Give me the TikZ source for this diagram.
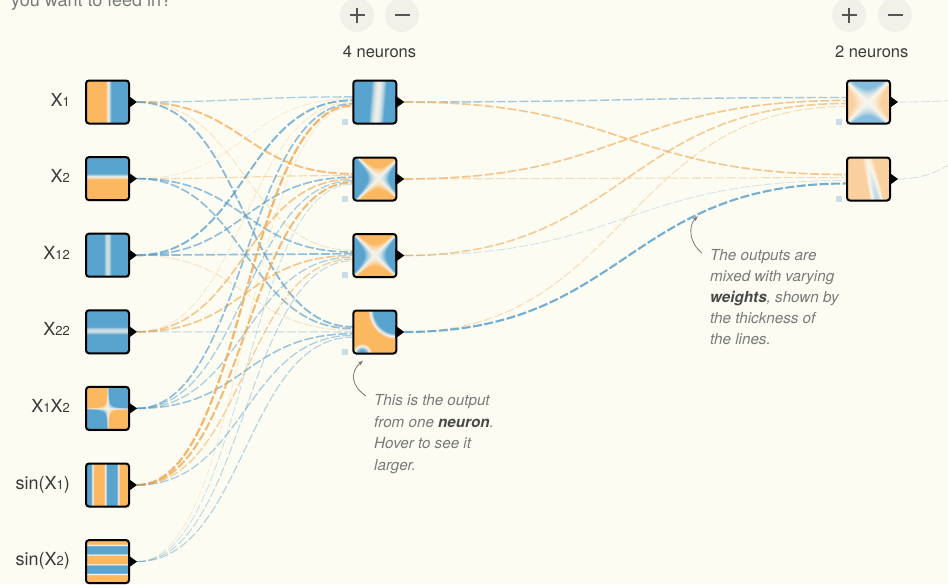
\documentclass[tikz,border=0pt]{standalone}
\usepackage{fontspec}
\setmainfont{TeX Gyre Heros}
\usetikzlibrary{calc,arrows.meta,shadows}

\definecolor{paper}{RGB}{252,252,242}
\definecolor{labelink}{RGB}{58,58,58}
\definecolor{noteink}{RGB}{122,122,122}
\definecolor{boldnote}{RGB}{72,72,72}
\definecolor{linkblue}{RGB}{88,158,204}
\definecolor{linkorange}{RGB}{242,172,92}
\definecolor{biasfill}{RGB}{200,221,230}
\definecolor{btnfill}{RGB}{241,241,233}
\definecolor{btnink}{RGB}{85,85,85}

% PostScript helpers for the heat maps inside the units.
% \uvmap: shading coordinates -> u,v in [-1,1] across the unit square.
\def\uvmap{ 50 sub 25 div exch 50 sub 25 div exch }
% value s -> r g b : -1 orange, 0 near white, +1 blue
\def\cmapfull{ dup 1 gt {pop 1} if dup -1 lt {pop -1} if dup 0 lt {neg dup dup -0.54 mul 0.92 add 3 1 roll -0.23 mul 0.95 add 3 1 roll 0.04 mul 0.95 add 3 1 roll} {dup dup -0.11 mul 0.92 add 3 1 roll -0.31 mul 0.95 add 3 1 roll -0.60 mul 0.95 add 3 1 roll} ifelse }
\def\cmappale{ dup 1 gt {pop 1} if dup -1 lt {pop -1} if dup 0 lt {neg dup dup -0.30 mul 0.92 add 3 1 roll -0.14 mul 0.96 add 3 1 roll 0.01 mul 0.97 add 3 1 roll} {dup dup -0.05 mul 0.92 add 3 1 roll -0.22 mul 0.96 add 3 1 roll -0.45 mul 0.97 add 3 1 roll} ifelse }

% input features
\pgfdeclarefunctionalshading{shX1}{\pgfpointorigin}{\pgfpoint{100bp}{100bp}}{}{\uvmap pop 0.04 sub 7 mul \cmapfull}
\pgfdeclarefunctionalshading{shX2}{\pgfpointorigin}{\pgfpoint{100bp}{100bp}}{}{\uvmap exch pop 0.1 sub 7 mul \cmapfull}
\pgfdeclarefunctionalshading{shX3}{\pgfpointorigin}{\pgfpoint{100bp}{100bp}}{}{\uvmap pop dup mul 25 mul 0.25 add \cmapfull}
\pgfdeclarefunctionalshading{shX4}{\pgfpointorigin}{\pgfpoint{100bp}{100bp}}{}{\uvmap exch pop 0.06 sub dup mul 25 mul 0.25 add \cmapfull}
\pgfdeclarefunctionalshading{shX5}{\pgfpointorigin}{\pgfpoint{100bp}{100bp}}{}{\uvmap mul 30 mul \cmapfull}
\pgfdeclarefunctionalshading{shX6}{\pgfpointorigin}{\pgfpoint{100bp}{100bp}}{}{\uvmap pop 1 add 300 mul cos 2.5 mul \cmapfull}
\pgfdeclarefunctionalshading{shX7}{\pgfpointorigin}{\pgfpoint{100bp}{100bp}}{}{\uvmap exch pop neg 1 add 400 mul 180 add cos 2.5 mul \cmapfull}
% hidden units
\pgfdeclarefunctionalshading{shH1}{\pgfpointorigin}{\pgfpoint{100bp}{100bp}}{}{\uvmap 0.08 mul neg add 0.12 sub dup mul 8 mul 0.05 add \cmapfull}
\pgfdeclarefunctionalshading{shH2}{\pgfpointorigin}{\pgfpoint{100bp}{100bp}}{}{\uvmap 0.05 sub dup mul exch 0.15 sub dup mul exch sub 4 mul \cmapfull}
\pgfdeclarefunctionalshading{shH3}{\pgfpointorigin}{\pgfpoint{100bp}{100bp}}{}{\uvmap 0.03 sub dup mul exch dup mul exch sub 4 mul \cmapfull}
\pgfdeclarefunctionalshading{shH4}{\pgfpointorigin}{\pgfpoint{100bp}{100bp}}{}{\uvmap 2 copy 1 add dup mul exch 0.6 add dup mul add 10 mul neg 1.2 add 3 1 roll 1 sub dup mul exch 1 sub dup mul add neg 1.45 add 3 mul 2 copy lt {exch} if pop \cmapfull}
% second layer
\pgfdeclarefunctionalshading{shO1}{\pgfpointorigin}{\pgfpoint{100bp}{100bp}}{}{\uvmap 2 copy dup mul exch dup mul sub 2.5 mul exch pop exch 0.3 mul sub \cmappale}
\pgfdeclarefunctionalshading{shO2}{\pgfpointorigin}{\pgfpoint{100bp}{100bp}}{}{\uvmap 2 copy 0.25 mul add 0.1 sub dup mul 12 mul exch pop exch 0.9 sub dup mul 1.0 mul add neg 0.8 add \cmappale}

\newcommand\sd[1]{{\fontsize{13}{13}\selectfont #1}}
\newcommand\emword[1]{{\color{boldnote}\bfseries #1}}

\pgfdeclarelayer{paperlayer}
\pgfdeclarelayer{wires}
\pgfsetlayers{paperlayer,wires,main}

\tikzset{
  unit/.style={draw=black, line width=2pt, minimum size=43pt, inner sep=0pt, outer sep=0pt,
    rounded corners=3pt, shade, shading=#1,
    drop shadow={shadow xshift=0pt, shadow yshift=-1.5pt, opacity=0.13}},
  port/.style={fill=black},
  bias/.style={fill=biasfill, minimum size=6pt, inner sep=0pt, outer sep=0pt},
  btn/.style={circle, fill=btnfill, minimum size=34pt, inner sep=0pt},
  sign/.style={draw=btnink, line width=1.8pt},
  inlabel/.style={anchor=base east, font=\fontsize{18}{18}\selectfont, text=labelink, inner sep=0pt},
  header/.style={anchor=base, font=\fontsize{16.5}{16.5}\selectfont, text=labelink, inner sep=0pt},
  note/.style={anchor=base west, font=\fontsize{15.2}{15.2}\selectfont\itshape, text=noteink, inner sep=0pt},
  callout/.style={draw=noteink, line width=0.8pt, -{Latex[length=5pt,width=4pt]}},
  wire/.style={to path={let \p1=(\tikztostart), \p2=(\tikztotarget) in
      .. controls ({0.5*\x1+0.5*\x2},\y1) and ({0.5*\x1+0.5*\x2},\y2) .. (\tikztotarget)}},
  link/.code={%
    \pgfmathsetmacro\lkabs{abs(#1)}%
    \pgfmathsetmacro\lkw{0.5+2.6*\lkabs}%
    \pgfmathsetmacro\lko{min(1,0.18+1.05*\lkabs)}%
    \ifdim #1pt<0pt \def\lkcol{linkorange}\else\def\lkcol{linkblue}\fi
    \tikzset{wire, draw=\lkcol, line width=\lkw pt, draw opacity=\lko, dash pattern=on 9pt off 2.5pt}%
  },
}

\begin{document}
\begin{tikzpicture}[x=1pt,y=-1pt]
\useasboundingbox (0,0) rectangle (948,584);
\begin{pgfonlayer}{paperlayer}
  \fill[paper] (0,0) rectangle (948,584);
\end{pgfonlayer}

% question text running off the top edge
\node[anchor=base west, font=\fontsize{18}{18}\selectfont, text=noteink, inner sep=0pt] (intro) at (11,6.5) {you want to feed in?};

% input features
\foreach \i/\y in {1/102,2/178.6,3/255.2,4/331.8,5/408.4,6/485,7/561.6}
  \node[unit=shX\i] (x\i) at (107.5,\y) {};
\node[inlabel] (x1l) at (70,106) {X\sd{1}};
\node[inlabel] (x2l) at (70,182.6) {X\sd{2}};
\node[inlabel] (x3l) at (70,259.2) {X\sd{12}};
\node[inlabel] (x4l) at (70,335.8) {X\sd{22}};
\node[inlabel] (x5l) at (70,412.4) {X\sd{1}X\sd{2}};
\node[inlabel] (x6l) at (70,489) {sin(X\sd{1})};
\node[inlabel] (x7l) at (70,565.6) {sin(X\sd{2})};

% hidden layer
\foreach \h/\y in {1/102,2/179,3/255.5,4/332}
  \node[unit=shH\h] (h\h) at (374.8,\y) {};
% second layer
\foreach \o/\y in {1/102,2/179}
  \node[unit=shO\o] (o\o) at (868.5,\y) {};

% layer headers and +/- buttons
\node[btn] (addh) at (357,15) {};
\node[btn] (subh) at (402,15) {};
\node[btn] (addo) at (849,15) {};
\node[btn] (subo) at (895,15) {};
\foreach \b in {addh,addo}
  \draw[sign] ($(\b)+(-7.5,0)$) -- ($(\b)+(7.5,0)$) ($(\b)+(0,-7.5)$) -- ($(\b)+(0,7.5)$);
\foreach \b in {subh,subo}
  \draw[sign] ($(\b)+(-7.5,0)$) -- ($(\b)+(7.5,0)$);
\node[header] (hcount) at (379.5,57) {4 neurons};
\node[header] (ocount) at (871.7,57) {2 neurons};

% bias markers
\foreach \n in {h1,h2,h3,h4,o1,o2}
  \node[bias] (\n-bias) at ($(\n.center)+(-29.5,19.5)$) {};

% output ports
\foreach \n in {x1,x2,x3,x4,x5,x6,x7,h1,h2,h3,h4,o1,o2} {
  \fill[port] ($(\n.east)+(-1,-6.5)$) -- ($(\n.east)+(8,0)$) -- ($(\n.east)+(-1,6.5)$) -- cycle;
  \coordinate (\n-out) at ($(\n.east)+(8,0)$);
}

% entry slots on the receiving units
\foreach \i in {1,...,7}
  \foreach \h in {1,...,4}
    \coordinate (h\h-x\i) at ($(h\h.west)+(-0.5,{(\i-4)/7*12})$);
\foreach \h in {1,...,4}
  \foreach \o in {1,2}
    \coordinate (o\o-h\h) at ($(o\o.west)+(-0.5,{(\h-2.5)/4*12})$);
\coordinate (yhat-o1) at (1060,94.5);
\coordinate (yhat-o2) at (1060,97.5);

% weighted connections
\begin{pgfonlayer}{wires}
\foreach \s/\t/\w in {
  x1/h1/0.3, x1/h2/-0.55, x1/h3/-0.15, x1/h4/0.5,
  x2/h1/-0.08, x2/h2/-0.25, x2/h3/0.45, x2/h4/0.45,
  x3/h1/0.55, x3/h2/0.45, x3/h3/0.45, x3/h4/-0.15,
  x4/h1/-0.1, x4/h2/-0.45, x4/h3/-0.45, x4/h4/0.2,
  x5/h1/0.45, x5/h2/0.3, x5/h3/0.3, x5/h4/0.4,
  x6/h1/-0.65, x6/h2/-0.6, x6/h3/-0.35, x6/h4/0.3,
  x7/h1/-0.08, x7/h2/0.12, x7/h3/0.2, x7/h4/0.25,
  h1/o1/0.35, h1/o2/-0.45, h2/o1/-0.45, h2/o2/-0.22,
  h3/o1/-0.42, h3/o2/0.1, h4/o1/-0.2, h4/o2/0.62,
  o1/yhat/0.1, o2/yhat/0.1}
  \draw[link=\w] (\s-out) to (\t-\s);
\end{pgfonlayer}

% annotations
\node[note] (n1a) at (374,405.5) {This is the output};
\node[note] (n1b) at (374,427) {from one \emword{neuron}.};
\node[note] (n1c) at (374,448.5) {Hover to see it};
\node[note] (n1d) at (374,470) {larger.};
\coordinate (c1tail) at (366,396);
\coordinate (c1tip) at ($(h4.south west)+(10,7)$);
\draw[callout] (c1tail) .. controls (351,386) and (350,372) .. (c1tip);

\node[note] (n2a) at (710,260.5) {The outputs are};
\node[note] (n2b) at (710,281.5) {mixed with varying};
\node[note] (n2c) at (710,302.5) {\emword{weights}, shown by};
\node[note] (n2d) at (710,323.5) {the thickness of};
\node[note] (n2e) at (710,344.5) {the lines.};
\coordinate (c2tail) at (702,253);
\coordinate (c2tip) at (698,216);
\draw[callout] (c2tail) .. controls (688,242) and (689,225) .. (c2tip);
\end{tikzpicture}
\end{document}
